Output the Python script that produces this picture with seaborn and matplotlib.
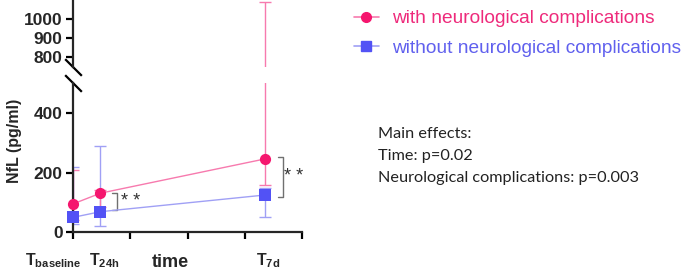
import numpy as np
import pandas as pd
import matplotlib
matplotlib.use('Agg')
import matplotlib.pyplot as plt
from matplotlib.lines import Line2D
import seaborn as sns

# data (hours after baseline)
time_h = [0, 24, 168]
with_vals = [95, 131, 246]
with_low = [40, 85, 157]
with_high = [207, 140, 1089]
without_vals = [50, 69, 125]
without_low = [28, 21, 51]
without_high = [220, 290, 150]
groups = ['with neurological complications', 'without neurological complications']

pink, pink_l = '#F5166E', '#F77AAE'
blue, blue_l = '#5252F5', '#A0A0F5'

df = pd.DataFrame({
    'time': time_h * 2,
    'nfl': with_vals + without_vals,
    'group': [groups[0]] * 3 + [groups[1]] * 3,
})

sns.set_style('ticks')
plt.rcParams['font.family'] = ['Liberation Sans', 'DejaVu Sans']
plt.rcParams['mathtext.fontset'] = 'custom'
plt.rcParams['mathtext.bf'] = 'Liberation Sans:bold'
plt.rcParams['mathtext.rm'] = 'Liberation Sans'

fig = plt.figure(figsize=(6.85, 2.71), dpi=100)
L, R = 73 / 685, 302 / 685
ax_top = fig.add_axes([L, 1 - 67 / 271, R - L, 67 / 271])
ax = fig.add_axes([L, 1 - 232.3 / 271, R - L, (232.3 - 83) / 271])

lines = [(with_vals, with_low, with_high, pink, pink_l, 'o'),
         (without_vals, without_low, without_high, blue, blue_l, 's')]

# error bars in both parts of the broken axis
for a in (ax, ax_top):
    for vals, lo, hi, c, cl, m in lines[::-1]:
        err = [np.array(vals) - np.array(lo), np.array(hi) - np.array(vals)]
        a.errorbar(time_h, vals, yerr=err, fmt='none', ecolor=cl, elinewidth=1,
                   capsize=4, capthick=1, zorder=2)

sns.lineplot(data=df, x='time', y='nfl', hue='group', palette=[pink_l, blue_l],
             lw=1, legend=False, ax=ax, zorder=3)
for vals, lo, hi, c, cl, m in lines:
    sns.scatterplot(x=time_h, y=vals, color=c, marker=m, s=65, linewidth=0,
                    ax=ax, zorder=4, clip_on=False)

ax.set_xlim(0, 200)
ax.set_ylim(0, 500)
ax_top.set_xlim(0, 200)
ax_top.set_ylim(750, 1100)

ax.set_xticks([0, 50, 100, 150, 200])
ax.set_xticklabels([])
ax.set_yticks([0, 200, 400])
ax_top.set_yticks([800, 900, 1000])
ax_top.set_xticks([])

for a in (ax, ax_top):
    sns.despine(ax=a)
    a.spines['left'].set_linewidth(1.6)
    a.spines['bottom'].set_linewidth(1.6)
    a.tick_params(width=1.6, length=5, labelsize=12.5, pad=2.5, color='black')
    a.set_xlabel('')
    a.set_ylabel('')
    for lab in a.get_yticklabels():
        lab.set_fontweight('bold')
ax_top.spines['bottom'].set_visible(False)

# axis break marks
brk = dict(marker=[(-1, 1), (1, -1)], markersize=12, linestyle='none',
           color='black', mew=1.6, clip_on=False)
ax_top.plot([0], [0], transform=ax_top.transAxes, **brk)
ax.plot([0], [1], transform=ax.transAxes, **brk)

# x labels
xlabs = [r'$\mathbf{T}_{\mathbf{baseline}}$', r'$\mathbf{T}_{\mathbf{24h}}$', r'$\mathbf{T}_{\mathbf{7d}}$']
xlab_pos = [-17, 27, 170]
for xp, t in zip(xlab_pos, xlabs):
    ax.text(xp, -(265 - 232.3) / 149.3, t, transform=ax.get_xaxis_transform(),
            ha='center', va='baseline', fontsize=11.5)
ax.text(85, -(267 - 232.3) / 149.3, 'time', transform=ax.get_xaxis_transform(),
        ha='center', va='baseline', fontsize=13, fontweight='bold')
fig.text(15 / 685, 1 - 141 / 271, 'NfL (pg/ml)', rotation=90, ha='center', va='center',
         fontsize=11.5, fontweight='bold')

# significance brackets
for xb, ya, yb, xs in [(34, with_vals[1], without_vals[1] + 6, 50),
                       (179, with_vals[2] + 6, without_vals[2] - 6, 193)]:
    ax.plot([xb, xb + 4, xb + 4, xb], [ya, ya, yb, yb], color='#707070', lw=1, zorder=1)
    ax.text(xs, (ya + yb) / 2, '* *', ha='center', va='center', fontsize=13, color='#333333')

# legend
handles = [Line2D([], [], color=pink_l, marker='o', markerfacecolor=pink, markeredgecolor=pink,
                  markersize=7, lw=1.2),
           Line2D([], [], color=blue_l, marker='s', markerfacecolor=blue, markeredgecolor=blue,
                  markersize=7, lw=1.2)]
fig.legend(handles, groups, loc='upper left', bbox_to_anchor=(354 / 685, 1 - 10 / 271),
           frameon=False, fontsize=13.8, handlelength=1.3, handletextpad=0.68,
           labelspacing=0.63, borderpad=0, borderaxespad=0,
           labelcolor=['#EE2A7B', '#6060EE'])

fig.text(378 / 685, 1 - 127 / 271,
         'Main effects:\nTime: p=0.02\nNeurological complications: p=0.003',
         ha='left', va='top', fontsize=11.7, family=['Lato', 'DejaVu Sans'],
         linespacing=1.72, color='#222222')

fig.savefig('out.png', dpi=100)
